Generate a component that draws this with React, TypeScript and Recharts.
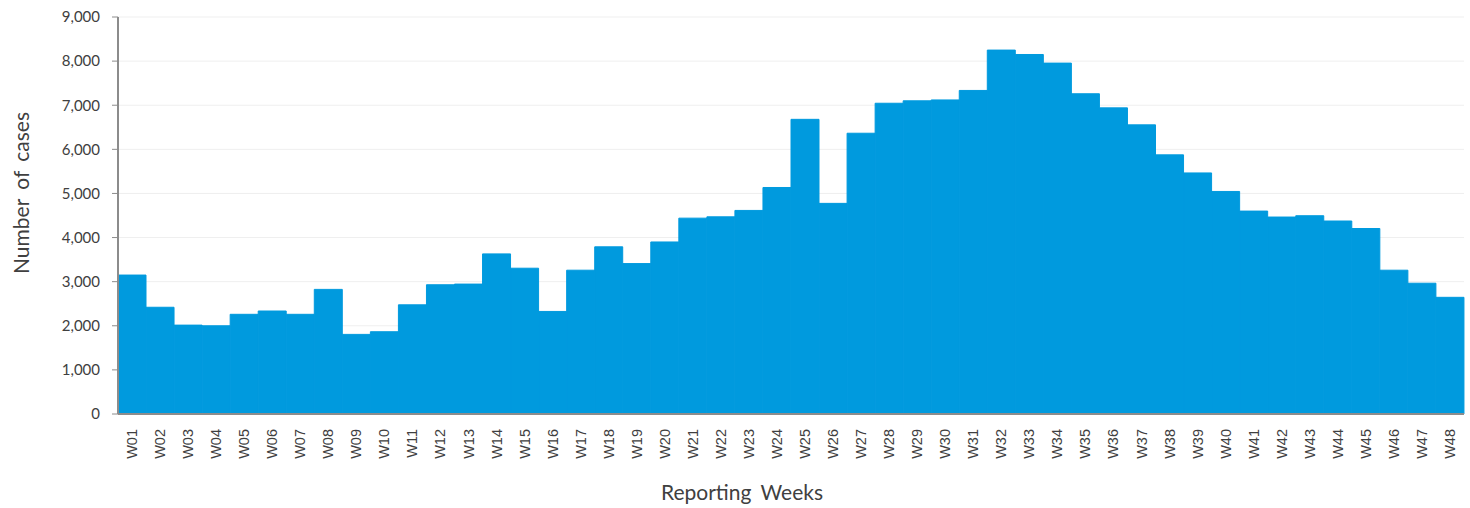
import React from 'react';
import { BarChart, Bar, XAxis, YAxis, CartesianGrid, Label } from 'recharts';

const weeks = [
  'W01', 'W02', 'W03', 'W04', 'W05', 'W06', 'W07', 'W08', 'W09', 'W10', 'W11', 'W12',
  'W13', 'W14', 'W15', 'W16', 'W17', 'W18', 'W19', 'W20', 'W21', 'W22', 'W23', 'W24',
  'W25', 'W26', 'W27', 'W28', 'W29', 'W30', 'W31', 'W32', 'W33', 'W34', 'W35', 'W36',
  'W37', 'W38', 'W39', 'W40', 'W41', 'W42', 'W43', 'W44', 'W45', 'W46', 'W47', 'W48',
];

const cases = [
  3150, 2420, 2015, 2000, 2260, 2335, 2260, 2825, 1805, 1865, 2475, 2930,
  2945, 3630, 3305, 2325, 3260, 3790, 3410, 3900, 4440, 4470, 4615, 5135,
  6680, 4775, 6365, 7045, 7100, 7120, 7335, 8250, 8150, 7955, 7260, 6940,
  6555, 5875, 5465, 5045, 4600, 4465, 4495, 4375, 4205, 3260, 2965, 2645,
];

const yTicks = [0, 1000, 2000, 3000, 4000, 5000, 6000, 7000, 8000, 9000];

const data = weeks.map((w, i) => ({ week: w, cases: cases[i] }));

const FONT = 'Lato, "Open Sans", sans-serif';

const WeekTick = ({ x, y, payload }: any) => (
  <text
    x={x}
    y={y + 7}
    transform={`rotate(-90, ${x}, ${y + 7})`}
    textAnchor="end"
    dominantBaseline="central"
    fill="#404040"
    fontSize={14.5}
    fontFamily='"Liberation Sans", Arial, sans-serif'
  >
    {payload.value}
  </text>
);

export default function App() {
  return (
    <div style={{ position: 'absolute', left: 0, top: 0, width: 1470, height: 508, background: '#fff' }}>
      <BarChart
        width={1470}
        height={508}
        data={data}
        margin={{ top: 17, right: 6, bottom: 34, left: 60 }}
        barCategoryGap={0}
        barGap={0}
      >
        <CartesianGrid vertical={false} stroke="#efefef" />
        <XAxis
          dataKey="week"
          interval={0}
          height={60}
          tickLine={false}
          axisLine={{ stroke: '#8c8c8c', strokeWidth: 2 }}
          tick={<WeekTick />}
        >
          <Label
            content={() => (
              <text x={742} y={500} textAnchor="middle" fill="#404040" fontSize={21} fontFamily={FONT} wordSpacing={4}>
                Reporting Weeks
              </text>
            )}
          />
        </XAxis>
        <YAxis
          width={58}
          domain={[0, 9000]}
          ticks={yTicks}
          interval={0}
          tickSize={6}
          tickMargin={12}
          tickLine={{ stroke: '#8c8c8c' }}
          axisLine={{ stroke: '#8c8c8c', strokeWidth: 2 }}
          tick={{ fill: '#404040', fontSize: 15, fontFamily: FONT }}
          tickFormatter={(v: number) => v.toLocaleString('en-US')}
        >
          <Label
            content={() => (
              <text
                x={29}
                y={193}
                transform="rotate(-90, 29, 193)"
                textAnchor="middle"
                fill="#404040"
                fontSize={21}
                fontFamily={FONT}
                wordSpacing={4}
              >
                Number of cases
              </text>
            )}
          />
        </YAxis>
        <Bar dataKey="cases" fill="#009ade" stroke="#009ade" strokeWidth={1} isAnimationActive={false} />
      </BarChart>
    </div>
  );
}
